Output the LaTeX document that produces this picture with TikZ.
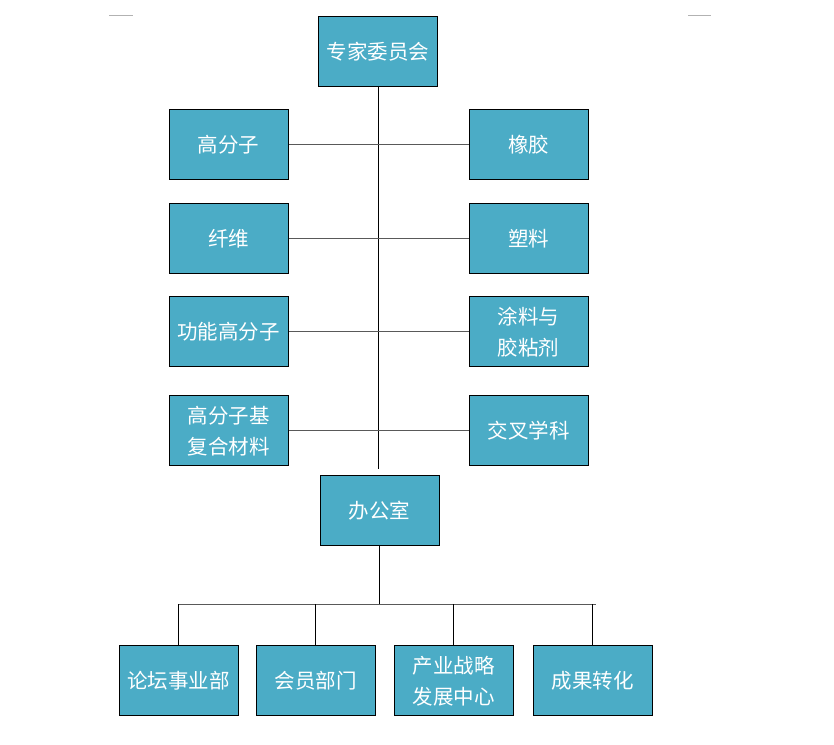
\documentclass[tikz,border=0pt]{standalone}
\usepackage{fontspec}
\setmainfont{Noto Sans CJK SC}
\usetikzlibrary{calc}
\definecolor{unitblue}{HTML}{4BACC6}
\tikzset{%
	unit/.style   = {draw, rectangle, fill=unitblue, text=white, minimum width=119pt, minimum height=70pt, inner sep=0pt, text depth=0pt, align=center, line width=1pt, font=\fontsize{20.5}{31}\selectfont},
	trunkline/.style = {line width=1pt},
	branch/.style = {line width=1pt, black!65},
	cornermark/.style = {line width=1pt, black!30},
}

\begin{document}
\begin{tikzpicture}[x=1pt,y=-1pt]
	\useasboundingbox (0,0) rectangle (834,744);
	% corner marks
	\draw[cornermark] (109,15) -- (133,15);
	\draw[cornermark] (688,15) -- (711,15);
	% committee
	\node[unit] (zj) at (378,51) {专家委员会};
	\node[unit] (gfz) at (228.5,144) {高分子};
	\node[unit] (xj) at (528.5,144) {橡胶};
	\node[unit] (xw) at (228.5,238) {纤维};
	\node[unit] (sl) at (528.5,238) {塑料};
	\node[unit] (gn) at (228.5,331) {功能高分子};
	\node[unit] (tl) at (528.5,331) {涂料与\\胶粘剂};
	\node[unit] (fh) at (228.5,430) {高分子基\\复合材料};
	\node[unit] (jc) at (528.5,430) {交叉学科};
	\coordinate (trunk) at (378,469);
	\draw[trunkline] (zj.south) -- (trunk);
	\foreach \l/\r in {gfz/xj,xw/sl,gn/tl,fh/jc}{
		\draw[branch] (\l.east) -- (\l.east -| trunk);
		\draw[branch] (\r.west) -- (\r.west -| trunk);
	}
	% office
	\node[unit] (bgs) at (379.5,510) {办公室};
	\node[unit] (lt) at (178.5,680) {论坛事业部};
	\node[unit] (hy) at (315.5,680) {会员部门};
	\node[unit] (cy) at (453.5,680) {产业战略\\发展中心};
	\node[unit] (cg) at (592.5,680) {成果转化};
	\coordinate (busL) at (179,604);
	\coordinate (busR) at (596,604);
	\draw[branch] (busL) -- (busR);
	\draw[trunkline] (bgs.south) -- (bgs.south |- busL);
	\foreach \n in {lt,hy,cy,cg}
		\draw[trunkline] (\n.north) -- (\n.north |- busL);
\end{tikzpicture}
\end{document}
